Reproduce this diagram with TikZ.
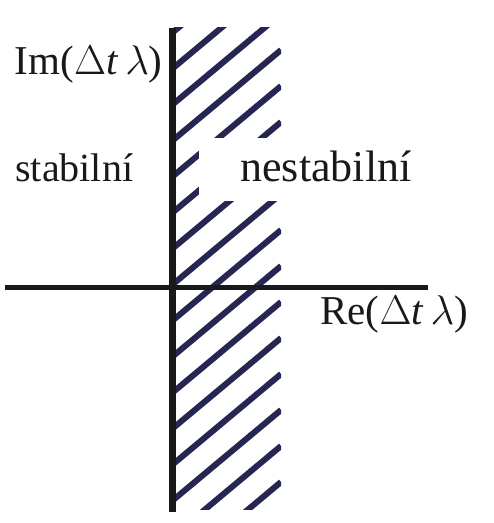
\documentclass[tikz,border=0pt]{standalone}
\usepackage{fontspec}
\setmainfont{Liberation Serif}
\begin{document}
\begin{tikzpicture}[x=0.5pt,y=-0.5pt,
  lbl/.style={inner sep=0pt, text=black!90},
  axis/.style={draw=black!90},
  hatchline/.style={line width=3pt, draw=black!75!blue!70!gray}]
\useasboundingbox (0,0) rectangle (493,523);
\fill[white] (0,0) rectangle (493,523);
% hatching
\begin{scope}
  \clip (172,28) rectangle (281,509);
  \foreach \k in {-6,...,14} {
    \pgfmathsetmacro{\yy}{357-36*\k}
    \draw[hatchline] (172,\yy) -- (281,\yy-91);
  }
\end{scope}
\fill[white] (199,138) rectangle (290,201);
% axes
\coordinate (ytop) at (172,28);
\coordinate (ybot) at (172,512);
\coordinate (xl) at (5,287);
\coordinate (xr) at (428,287);
\draw[axis, line width=3.5pt] (ytop) -- (ybot);
\draw[axis, line width=2.5pt] (xl) -- (xr);
% labels
\node[lbl, font=\fontsize{20.5}{24}\selectfont, anchor=base east] (im) at (163,75) {Im(\(\Delta\)\textit{t}\,\(\lambda\))};
\node[lbl, font=\fontsize{20}{24}\selectfont, anchor=base west] (st) at (15,182) {stabilní};
\node[lbl, font=\fontsize{22}{26}\selectfont, anchor=base west] (ne) at (240,182) {nestabilní};
\node[lbl, font=\fontsize{20.5}{24}\selectfont, anchor=base west] (re) at (320,324) {Re(\(\Delta\)\textit{t}\,\(\lambda\))};
\end{tikzpicture}
\end{document}
